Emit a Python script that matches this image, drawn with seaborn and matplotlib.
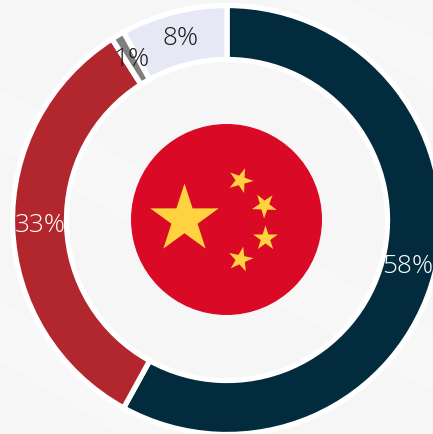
import matplotlib
matplotlib.use("Agg")
import matplotlib.pyplot as plt
from matplotlib.patches import Circle, Polygon
from matplotlib.path import Path
from matplotlib.transforms import Affine2D
import seaborn as sns

# Generation mix shares, clockwise from twelve o'clock
categories = ["Largest source", "Second source", "Minor source", "Other sources"]
shares = [58, 33, 1, 8]
slice_colors = ["#022B3E", "#B2272D", "#7F7F7F", "#E6E9F5"]
label_colors = ["white", "white", "#1a1a1a", "#1a1a1a"]

# Flag stars: x, y in pixels from the top-left, outer radius, clockwise turn
star_x = [184, 240, 264, 265, 240]
star_y = [219, 180, 205, 238, 259]
star_radius = [36, 13, 13, 13, 13]
star_turn = [0, 20, 38, 0, 12]

WIDTH, HEIGHT = 433, 434
CX, CY = 227, 220

sns.set_theme(style="white")
plt.rcParams["font.family"] = ["Open Sans", "DejaVu Sans"]

fig = plt.figure(figsize=(WIDTH / 100, HEIGHT / 100), dpi=100, facecolor="#F6F6F6")
ax = fig.add_axes([0, 0, 1, 1])

wedges, texts, autotexts = ax.pie(
    shares,
    colors=sns.color_palette(slice_colors),
    center=(CX, HEIGHT - CY),
    radius=214.5,
    startangle=90,
    counterclock=False,
    autopct="%.0f%%",
    pctdistance=0.872,
    wedgeprops=dict(width=54, edgecolor="white", linewidth=3.8),
    textprops=dict(fontsize=18.8, fontweight="light"),
)
for text, color in zip(autotexts, label_colors):
    text.set_color(color)

ax.set_xlim(0, WIDTH)
ax.set_ylim(0, HEIGHT)
ax.set_aspect("equal")
ax.axis("off")

# Faint pale streaks in the paper-like backdrop
for corners in [
    [(0, 90), (433, 330), (433, 390), (0, 150)],
    [(0, 300), (220, 434), (120, 434), (0, 360)],
    [(280, 0), (433, 90), (433, 40), (350, 0)],
]:
    ax.add_patch(Polygon([(x, HEIGHT - y) for x, y in corners], facecolor="white",
                         edgecolor="none", alpha=0.3, zorder=0))

# Round flag in the middle of the ring
ax.add_patch(Circle((226.5, HEIGHT - 219.5), 95.5, facecolor="#DA0A26", edgecolor="none", zorder=3))
pentagram = Path.unit_regular_star(5, innerCircle=0.381966)
for x, y, r, turn in zip(star_x, star_y, star_radius, star_turn):
    size_pts = 2 * r * 72 / fig.dpi
    ax.scatter([x], [HEIGHT - y], s=size_pts ** 2,
               marker=Affine2D().rotate_deg(-turn).transform_path(pentagram),
               color="#FFD23F", linewidths=0, zorder=4)

fig.savefig("out.png", dpi=100, facecolor=fig.get_facecolor())
